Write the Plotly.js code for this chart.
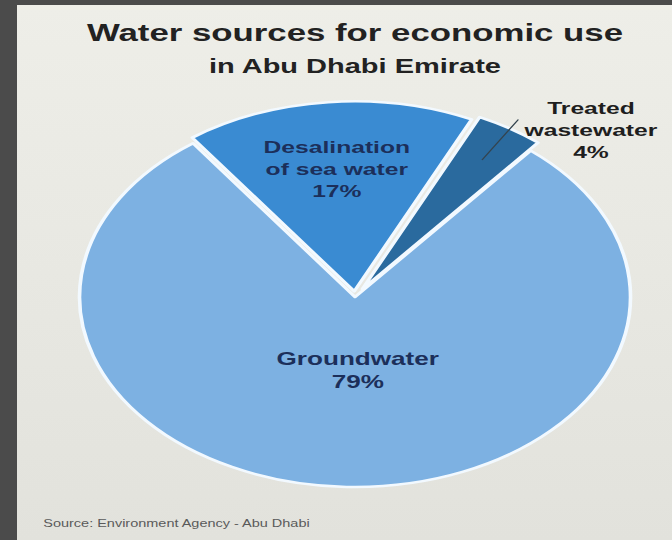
<!DOCTYPE html>
<html>
<head>
<meta charset="utf-8">
<script src="https://cdn.plot.ly/plotly-3.0.1.min.js"></script>
<style>
  html, body { margin: 0; padding: 0; width: 672px; height: 540px; overflow: hidden; background: #4b4b4b; }
  #chart {
    position: absolute; left: 17px; top: 5px; width: 452px; height: 535px;
    transform: scaleX(1.45); transform-origin: 0 0;
    background: linear-gradient(#eeeee8, #e2e2dc);
  }
</style>
</head>
<body>
<div id="chart"></div>
<script>
// ---- data ----
const categories = ['Desalination of sea water', 'Treated wastewater', 'Groundwater'];
const labelLines = ['Desalination<br>of sea water', 'Treated<br>wastewater', 'Groundwater'];
const shares = [17, 4, 79];
const sliceColors = ['#3a8bd2', '#2a6a9e', '#7db1e2'];
const pulls = [0.03, 0.05, 0];
const titleText = 'Water sources for economic use';
const subtitleText = 'in Abu Dhabi Emirate';
const sourceText = 'Source: Environment Agency - Abu Dhabi';

const FONT = '"Liberation Sans", Arial, sans-serif';

const trace = {
  type: 'pie',
  labels: categories,
  values: shares,
  sort: false,
  direction: 'clockwise',
  rotation: -36,
  pull: pulls,
  textinfo: 'none',
  hoverinfo: 'skip',
  marker: { colors: sliceColors, line: { color: '#f2f9ff', width: 2.5 } },
  domain: { x: [0.0744, 0.9571], y: [0.0813, 0.8271] },
  showlegend: false
};

const annotations = [
  { text: '<b>' + labelLines[0] + '<br>' + shares[0] + '%</b>', x: 0.4883, y: 0.6916,
    font: { size: 17, color: '#1c2f5a', family: FONT } },
  { text: '<b>' + labelLines[2] + '<br>' + shares[2] + '%</b>', x: 0.5203, y: 0.3159,
    font: { size: 18, color: '#1c2f5a', family: FONT } },
  { text: '<b>' + labelLines[1] + '<br>' + shares[1] + '%</b>', x: 0.8743, y: 0.7645,
    font: { size: 17, color: '#1e1e1e', family: FONT } },
  { text: '', x: 0.7095, y: 0.7103, showarrow: true, arrowhead: 0, arrowwidth: 1,
    arrowcolor: '#34444f', ax: 26, ay: -42 },
  { text: sourceText, x: 0.035, y: 0.030, xanchor: 'left', yanchor: 'middle',
    font: { size: 10, color: '#5a5a5a', family: FONT } }
].map(a => Object.assign({ xref: 'paper', yref: 'paper', showarrow: false, align: 'center',
                           xanchor: 'center', yanchor: 'middle' }, a));

const layout = {
  width: 452, height: 535,
  margin: { l: 0, r: 0, t: 0, b: 0 },
  paper_bgcolor: 'rgba(0,0,0,0)',
  plot_bgcolor: 'rgba(0,0,0,0)',
  title: {
    text: '<b>' + titleText + '<br><span style="font-size:20px">' + subtitleText + '</span></b>',
    font: { size: 24, color: '#222222', family: FONT },
    x: 0.5157, xanchor: 'center', xref: 'paper',
    y: 0.932, yref: 'container', yanchor: 'top'
  },
  annotations: annotations,
  hovermode: false
};

Plotly.newPlot('chart', [trace], layout, { displayModeBar: false, staticPlot: true });
</script>
</body>
</html>
